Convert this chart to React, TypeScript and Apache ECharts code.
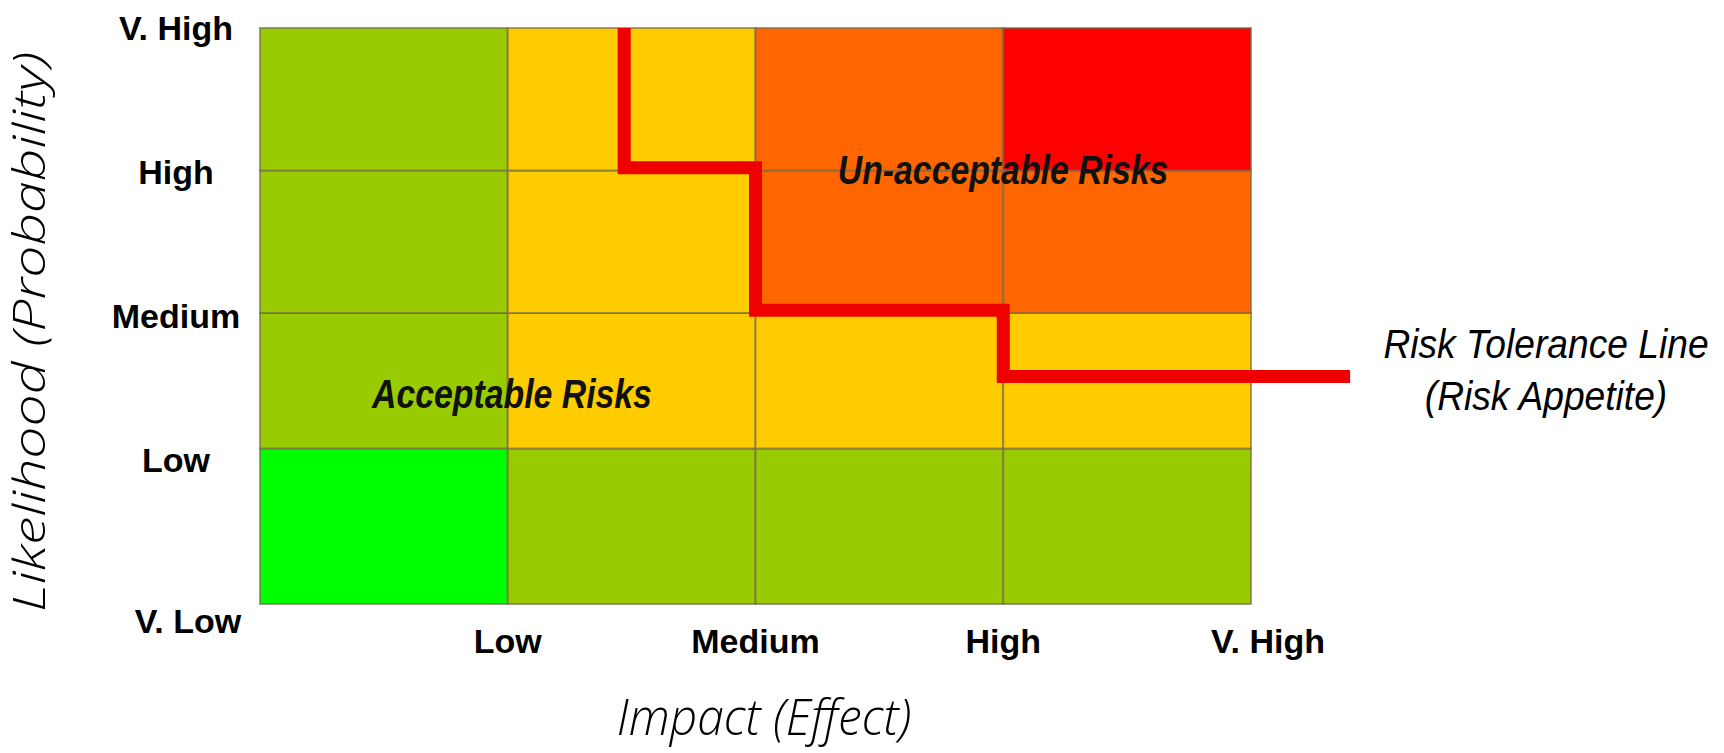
import React, { useEffect, useRef } from "react";
import * as echarts from "echarts";

// Tick labels
const impactLabels = ["", "Low", "Medium", "High", "V. High"]; // x ticks at 0..4
const likelihoodLabels = ["V. Low", "Low", "Medium", "High", "V. High"]; // y ticks at 0..4

// Column edges (impact) and row edges (likelihood) of the matrix, in axis units
const impactEdges = [0, 1, 2, 3, 4];
const likelihoodEdges = [0, 1.08, 2.02, 3.01, 4];

// Risk level of each cell, one row per likelihood band (bottom to top), columns = impact bands (left to right)
const riskRowVLowToLow = [0, 1, 1, 1];
const riskRowLowToMedium = [1, 2, 2, 2];
const riskRowMediumToHigh = [1, 2, 3, 3];
const riskRowHighToVHigh = [1, 2, 3, 4];
const riskColors = ["#00ff00", "#99cc00", "#ffcc00", "#ff6600", "#ff0000"];

// Risk tolerance line (step line) in axis units
const toleranceX = [1.47, 1.47, 2, 2, 3, 3, 4.4];
const toleranceY = [4, 3.03, 3.03, 2.04, 2.04, 1.58, 1.58];

const LABEL_FONT = '"Liberation Sans", Arial, sans-serif';
const TITLE_FONT = '"Open Sans", Lato, "DejaVu Sans", sans-serif';

export default function App() {
  const ref = useRef<HTMLDivElement>(null);

  useEffect(() => {
    if (!ref.current) return;
    const chart = echarts.init(ref.current, undefined, { renderer: "svg" });

    const rows = [riskRowVLowToLow, riskRowLowToMedium, riskRowMediumToHigh, riskRowHighToVHigh];
    const cells: number[][] = [];
    rows.forEach((row, r) =>
      row.forEach((lvl, c) =>
        cells.push([impactEdges[c], likelihoodEdges[r], impactEdges[c + 1], likelihoodEdges[r + 1], lvl])
      )
    );

    const tick = {
      fontFamily: LABEL_FONT,
      fontWeight: "bold" as const,
      fontSize: 34,
      color: "#000",
    };

    const isInt = (v: number) => Math.abs(v - Math.round(v)) < 1e-6;

    chart.setOption({
      animation: false,
      grid: { left: 260, top: 28, width: 1090.1, height: 576, outerBoundsMode: "none", containLabel: false },
      xAxis: {
        type: "value",
        min: 0,
        max: 4.4,
        interval: 1,
        axisLine: { show: false },
        axisTick: { show: false },
        splitLine: { show: false },
        axisLabel: {
          ...tick,
          margin: 20,
          showMaxLabel: false,
          formatter: (v: number) => {
            if (!isInt(v)) return "";
            const t = impactLabels[Math.round(v)] ?? "";
            return Math.round(v) === 4 ? `{vh|${t}}` : t;
          },
          rich: { vh: { ...tick, padding: [0, 0, 0, 34] } },
        },
      },
      yAxis: {
        type: "value",
        min: 0,
        max: 4,
        interval: 1,
        axisLine: { show: false },
        axisTick: { show: false },
        splitLine: { show: false },
        axisLabel: {
          ...tick,
          margin: 84,
          align: "center",
          lineHeight: 34,
          formatter: (v: number) => {
            const t = likelihoodLabels[Math.round(v)] ?? "";
            return Math.round(v) === 0 ? `\n{vl|${t}}` : t;
          },
          rich: { vl: { ...tick, lineHeight: 34, padding: [0, 0, 0, 24] } },
        },
      },
      series: [
        {
          type: "custom",
          data: cells,
          encode: { x: [0, 2], y: [1, 3] },
          silent: true,
          renderItem: (params: any, api: any) => {
            const p0 = api.coord([api.value(0), api.value(3)]);
            const p1 = api.coord([api.value(2), api.value(1)]);
            return {
              type: "rect",
              shape: { x: p0[0], y: p0[1], width: p1[0] - p0[0], height: p1[1] - p0[1] },
              style: {
                fill: riskColors[api.value(4)],
                stroke: "rgba(115,105,75,0.65)",
                lineWidth: 2,
              },
            };
          },
          z: 1,
        },
        {
          type: "line",
          data: toleranceX.map((x, i) => [x, toleranceY[i]]),
          symbol: "none",
          clip: false,
          silent: true,
          lineStyle: { color: "#ee0000", width: 13, cap: "butt", join: "miter" },
          z: 5,
        },
      ],
      graphic: [
        {
          type: "text",
          x: 512,
          y: 394,
          scaleX: 0.845,
          z: 10,
          silent: true,
          style: {
            text: "Acceptable Risks",
            font: 'italic bold 40px "Liberation Sans", Arial, sans-serif',
            fill: "#111",
            align: "center",
            verticalAlign: "middle",
          },
        },
        {
          type: "text",
          x: 1003,
          y: 170,
          scaleX: 0.845,
          z: 10,
          silent: true,
          style: {
            text: "Un-acceptable Risks",
            font: 'italic bold 40px "Liberation Sans", Arial, sans-serif',
            fill: "#111",
            align: "center",
            verticalAlign: "middle",
          },
        },
        {
          type: "text",
          x: 1546,
          y: 370,
          scaleX: 0.93,
          z: 10,
          silent: true,
          style: {
            text: "Risk Tolerance Line\n(Risk Appetite)",
            font: 'italic 40px "Liberation Sans", Arial, sans-serif',
            lineHeight: 52,
            fill: "#000",
            align: "center",
            verticalAlign: "middle",
          },
        },
        {
          type: "text",
          x: 764,
          y: 716,
          scaleX: 0.96,
          z: 10,
          silent: true,
          style: {
            text: "Impact (Effect)",
            font: `italic 300 50px ${TITLE_FONT}`,
            fill: "#000",
            align: "center",
            verticalAlign: "middle",
          },
        },
        {
          type: "text",
          x: 28,
          y: 332,
          rotation: Math.PI / 2,
          scaleX: 1.3,
          z: 10,
          silent: true,
          style: {
            text: "Likelihood (Probability)",
            font: `italic 300 44px ${TITLE_FONT}`,
            fill: "#000",
            align: "center",
            verticalAlign: "middle",
          },
        },
      ],
    });

    return () => chart.dispose();
  }, []);

  return (
    <div
      ref={ref}
      style={{ position: "absolute", left: 0, top: 0, width: 1724, height: 753, background: "#fff" }}
    />
  );
}
